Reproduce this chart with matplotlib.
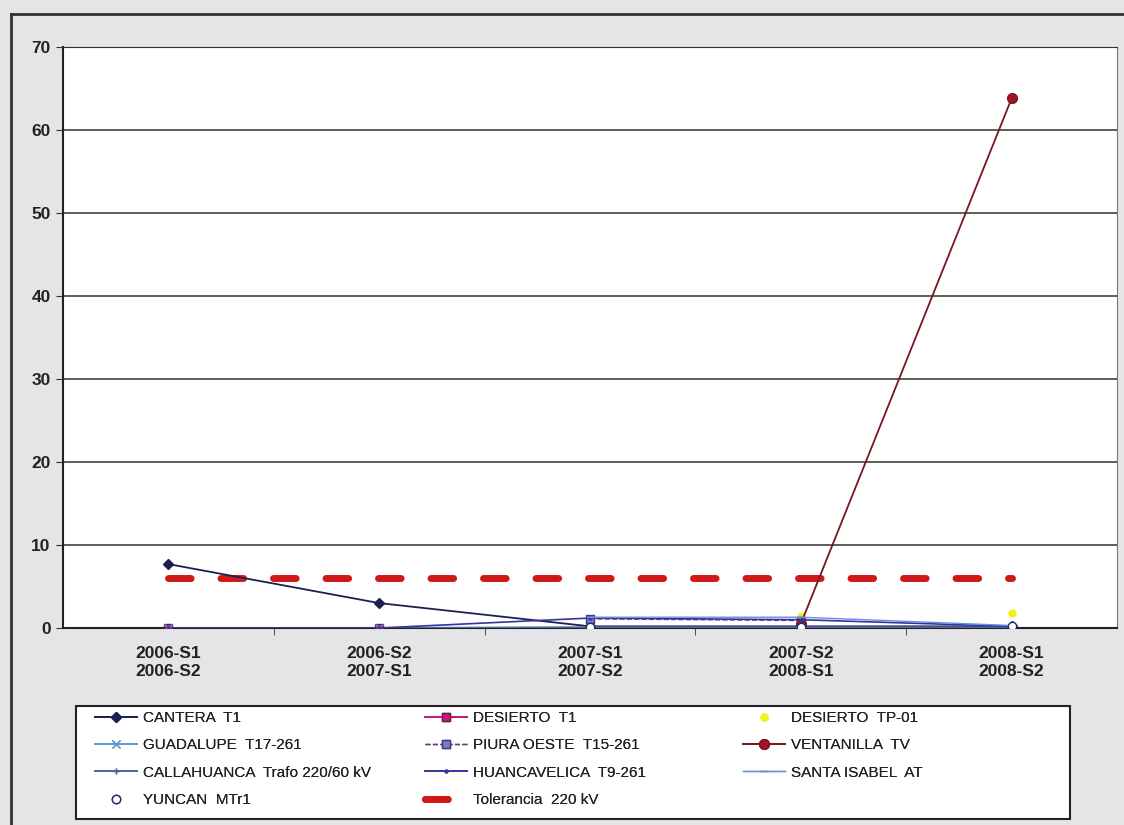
import matplotlib.pyplot as plt
import numpy as np
from matplotlib.patches import Rectangle
from matplotlib.lines import Line2D

# categorias (periodos)
periodos = ['2006-S1\n2006-S2', '2006-S2\n2007-S1', '2007-S1\n2007-S2',
            '2007-S2\n2008-S1', '2008-S1\n2008-S2']

nan = np.nan
cantera = [7.7, 3.0, 0.2, 0.2, 0.2]
desierto_t1 = [0.0, 0.0, nan, nan, nan]
desierto_tp01 = [nan, nan, nan, 1.5, 1.8]
guadalupe = [0.0, 0.0, 0.0, 0.0, 0.0]
piura = [nan, nan, 1.1, 0.9, nan]
ventanilla = [nan, nan, nan, 0.5, 63.8]
callahuanca = [0.0, 0.0, 0.1, 0.1, 0.1]
huancavelica = [0.0, 0.0, 1.2, 1.0, 0.2]
santa_isabel = [nan, nan, 1.3, 1.3, 0.3]
yuncan = [nan, nan, 0.1, 0.1, 0.2]
tolerancia = [6, 6, 6, 6, 6]

plt.rcParams['font.family'] = ['Liberation Sans', 'DejaVu Sans']
plt.rcParams['lines.scale_dashes'] = False

fondo = '#e5e5e8'
fig = plt.figure(figsize=(11.24, 8.25), dpi=100, facecolor=fondo)
W, H = 1124, 825
ax = fig.add_axes([63 / W, 1 - 628 / H, (1117 - 63) / W, (628 - 47) / H])
ax.set_facecolor('white')

x = np.arange(len(periodos))

# tolerancia primero, queda por debajo
tol, = ax.plot(x, tolerancia, color='#d01818', lw=5, solid_capstyle='round',
               dash_capstyle='round', label='Tolerancia  220 kV', zorder=2)
tol.set_dashes((16.3, 21.5))

series = [
    (cantera, dict(color='#1c2050', marker='D', ms=5, lw=1.3, label='CANTERA  T1')),
    (desierto_t1, dict(color='#c8147e', marker='s', ms=6, mec='#6a1a4a', lw=1.3, label='DESIERTO  T1')),
    (desierto_tp01, dict(color='#f4f020', marker='o', ms=5, lw=0, label='DESIERTO  TP-01')),
    (guadalupe, dict(color='#5a9ad0', marker='x', ms=6, lw=1.2, label='GUADALUPE  T17-261')),
    (piura, dict(color='#6a3a8a', marker='s', ms=6, mec='#3a3a80', mfc='#7a7ac0', lw=1.0, ls='--', label='PIURA OESTE  T15-261')),
    (ventanilla, dict(color='#7a1520', marker='o', ms=7, mfc='#a01525', lw=1.3, label='VENTANILLA  TV')),
    (callahuanca, dict(color='#4a68a8', marker='+', ms=5, lw=1.3, label='CALLAHUANCA  Trafo 220/60 kV')),
    (huancavelica, dict(color='#34349a', marker='.', ms=4, lw=1.2, label='HUANCAVELICA  T9-261')),
    (santa_isabel, dict(color='#6a8ee0', marker='_', ms=6, lw=1.0, label='SANTA ISABEL  AT')),
    (yuncan, dict(color='white', marker='o', ms=6, mec='#2a2a6a', mfc='white', lw=0, label='YUNCAN  MTr1')),
]
handles = {}
for datos, estilo in series:
    h, = ax.plot(x, datos, zorder=3, **estilo)
    handles[estilo['label']] = h
handles['Tolerancia  220 kV'] = tol

ax.set_xlim(-0.5, 4.5)
ax.set_ylim(0, 70)
ax.set_yticks(np.arange(0, 71, 10))
ax.set_xticks(x)
ax.set_xticklabels(periodos, fontsize=12.5, fontweight='bold', color='#222222',
                   linespacing=1.25)
ax.set_xticks(x[:-1] + 0.5, minor=True)
ax.tick_params(axis='x', which='major', length=0, pad=13)
ax.tick_params(axis='x', which='minor', length=5, direction='out', color='#333333')
ax.tick_params(axis='y', length=5, direction='out', color='#333333',
               labelsize=12.5, pad=4)
for t in ax.get_yticklabels():
    t.set_fontweight('bold')
    t.set_color('#222222')
ax.grid(axis='y', color='#303030', lw=1.1)
ax.set_axisbelow(True)
for lado in ['left', 'bottom']:
    ax.spines[lado].set_color('#222222')
    ax.spines[lado].set_linewidth(1.5)
ax.spines['right'].set_color('#777777')
ax.spines['top'].set_color('#303030')

# marco exterior
fig.add_artist(Line2D([11 / W, 11 / W], [0, 1 - 14 / H], color='#333333', lw=2))
fig.add_artist(Line2D([11 / W, 1], [1 - 14 / H, 1 - 14 / H], color='#333333', lw=2))

# caja de la leyenda
fig.add_artist(Rectangle((76 / W, 1 - 819 / H), (1070 - 76) / W, (819 - 706) / H,
                         facecolor='white', edgecolor='#222222', lw=1.5))

columnas = [
    (['CANTERA  T1', 'GUADALUPE  T17-261', 'CALLAHUANCA  Trafo 220/60 kV', 'YUNCAN  MTr1'], 95),
    (['DESIERTO  T1', 'PIURA OESTE  T15-261', 'HUANCAVELICA  T9-261', 'Tolerancia  220 kV'], 425),
    (['DESIERTO  TP-01', 'VENTANILLA  TV', 'SANTA ISABEL  AT'], 743),
]
for nombres, xp in columnas:
    leg = fig.legend([handles[n] for n in nombres], nombres, loc='upper left',
                     bbox_to_anchor=(xp / W, 1 - 711 / H), frameon=False,
                     fontsize=11, handlelength=2.75, handletextpad=0.4,
                     labelspacing=0.87, borderpad=0, borderaxespad=0,
                     numpoints=1)
    for t in leg.get_texts():
        t.set_color('#222222')
    fig.add_artist(leg)

plt.savefig('out.png', dpi=100, facecolor=fondo)
